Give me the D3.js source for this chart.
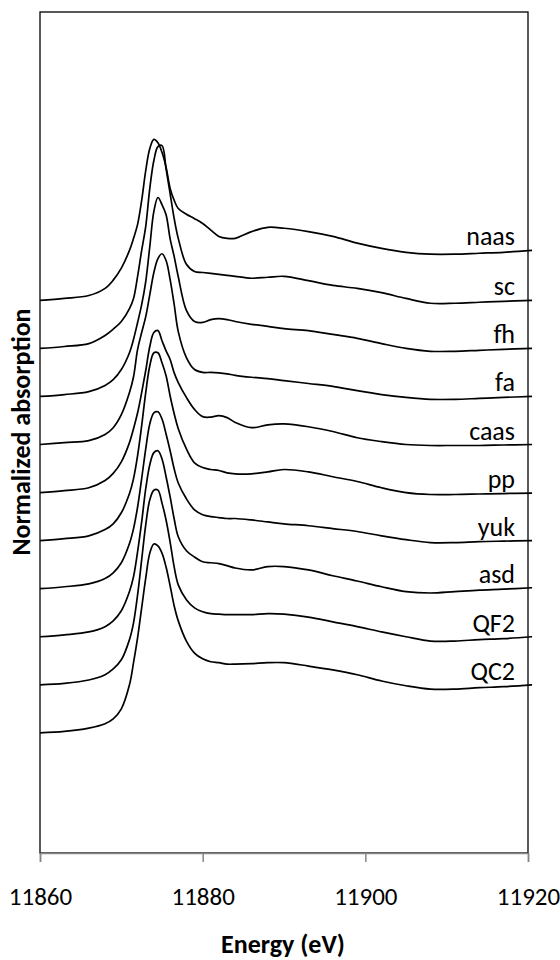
<!DOCTYPE html>
<html>
<head>
<meta charset="utf-8">
<script src="https://cdn.jsdelivr.net/npm/d3@7"></script>
<style>
  html, body { margin: 0; padding: 0; background: #fff; }
  svg { display: block; }
  text { font-family: Carlito, Calibri, Lato, sans-serif; fill: #000; }
</style>
</head>
<body>
<svg id="chart" width="560" height="960"></svg>
<script>
// ---- data ----
const energies = [11860, 11863, 11866, 11868, 11869, 11870, 11871, 11871.5, 11872, 11872.5, 11873, 11873.5, 11874, 11874.5, 11875, 11875.5, 11876, 11876.5, 11877, 11878, 11879, 11880, 11881, 11882, 11883, 11884, 11886, 11888, 11890, 11893, 11896, 11899, 11902, 11905, 11908, 11911, 11914, 11917, 11920.5];

const naas = [0,0.04,0.10,0.25,0.42,0.67,1.04,1.29,1.58,2.08,2.70,3.16,3.35,3.28,3.08,2.77,2.33,2.08,1.91,1.79,1.70,1.60,1.46,1.33,1.29,1.29,1.43,1.52,1.50,1.43,1.33,1.19,1.08,1.00,0.96,0.96,0.98,1.00,1.04];
const sc   = [0,0.04,0.10,0.27,0.40,0.56,0.83,1.04,1.50,2.04,2.54,3.33,3.91,4.20,4.22,3.74,3.22,2.70,2.29,1.75,1.60,1.58,1.56,1.54,1.52,1.50,1.46,1.48,1.50,1.41,1.31,1.25,1.16,1.04,0.94,0.94,0.96,0.98,1.00];
const fh   = [0,0.04,0.10,0.23,0.35,0.56,0.91,1.19,1.54,1.91,2.39,3.12,3.85,4.14,3.99,3.78,3.28,2.91,2.49,1.79,1.56,1.54,1.60,1.62,1.60,1.56,1.50,1.46,1.41,1.37,1.29,1.21,1.10,1.00,0.94,0.94,0.96,0.98,1.00];
const fa   = [0,0.04,0.08,0.21,0.35,0.62,1.08,1.41,1.98,2.33,2.66,3.12,3.58,3.87,3.97,3.83,3.43,2.91,2.35,1.81,1.56,1.50,1.50,1.49,1.47,1.44,1.40,1.37,1.33,1.27,1.21,1.12,1.04,0.98,0.94,0.94,0.96,0.98,1.00];
const caas = [0,0.04,0.10,0.25,0.40,0.64,1.04,1.33,1.66,2.08,2.54,3.04,3.33,3.37,3.16,2.95,2.77,2.49,2.29,1.98,1.73,1.58,1.57,1.60,1.56,1.46,1.35,1.41,1.43,1.37,1.27,1.14,1.06,1.00,0.98,0.98,0.98,0.99,1.00];
const pp   = [0,0.04,0.10,0.23,0.35,0.58,0.98,1.29,1.77,2.39,3.08,3.64,3.91,3.91,3.70,3.43,3.01,2.64,2.33,1.91,1.62,1.52,1.48,1.46,1.41,1.39,1.39,1.43,1.48,1.43,1.33,1.23,1.10,1.00,0.96,0.96,0.97,0.98,0.99];
const yuk  = [0,0.04,0.10,0.21,0.33,0.54,0.94,1.25,1.70,2.29,2.91,3.43,3.66,3.68,3.53,3.22,2.87,2.49,2.20,1.87,1.64,1.54,1.50,1.48,1.46,1.46,1.43,1.39,1.35,1.31,1.25,1.19,1.10,1.02,0.96,0.96,0.98,0.99,1.00];
const asd  = [0,0.04,0.10,0.21,0.33,0.54,0.94,1.25,1.77,2.39,3.08,3.58,3.83,3.87,3.70,3.33,2.91,2.45,2.08,1.79,1.66,1.56,1.54,1.52,1.48,1.43,1.39,1.46,1.46,1.39,1.27,1.16,1.04,0.94,0.91,0.94,0.97,0.99,1.02];
const QF2  = [0,0.03,0.10,0.21,0.33,0.52,0.94,1.29,1.87,2.60,3.33,3.85,4.05,4.05,3.78,3.43,2.97,2.45,2.08,1.77,1.60,1.52,1.48,1.47,1.46,1.46,1.46,1.48,1.47,1.41,1.31,1.21,1.10,1.00,0.91,0.91,0.94,0.96,1.00];
const QC2  = [0,0.03,0.10,0.19,0.29,0.50,1.00,1.46,1.98,2.60,3.22,3.74,3.93,3.89,3.74,3.45,3.06,2.64,2.33,1.91,1.66,1.54,1.48,1.46,1.43,1.43,1.44,1.46,1.46,1.39,1.31,1.21,1.08,0.98,0.91,0.91,0.94,0.96,1.00];

const seriesNames = ["naas", "sc", "fh", "fa", "caas", "pp", "yuk", "asd", "QF2", "QC2"];
const seriesValues = [naas, sc, fh, fa, caas, pp, yuk, asd, QF2, QC2];
const offsets = [11.5, 10.5, 9.5, 8.5, 7.5, 6.5, 5.5, 4.5, 3.5, 2.5];
const xTicks = [11860, 11880, 11900, 11920];
const xTitle = "Energy (eV)";
const yTitle = "Normalized absorption";

// ---- layout ----
const plot = { left: 40, right: 528, top: 12, bottom: 853 };
const svg = d3.select("#chart");

const x = d3.scaleLinear().domain([11860, 11920]).range([plot.left, plot.right]);
const y = d3.scaleLinear().domain([0, 17.5]).range([plot.bottom, plot.top]);

// plot-area border
svg.append("rect")
  .attr("x", plot.left).attr("y", plot.top)
  .attr("width", plot.right - plot.left).attr("height", plot.bottom - plot.top)
  .attr("fill", "none").attr("stroke", "#000").attr("stroke-width", 1.3);

// series
const line = d3.line()
  .x(d => x(d[0]))
  .y(d => y(d[1]))
  .curve(d3.curveCatmullRom.alpha(0.5));

seriesNames.forEach((name, i) => {
  const pts = energies.map((e, k) => [e, seriesValues[i][k] + offsets[i]]);
  svg.append("path")
    .datum(pts)
    .attr("fill", "none")
    .attr("stroke", "#000")
    .attr("stroke-width", 1.7)
    .attr("stroke-linejoin", "round")
    .attr("d", line);
  const last = pts[pts.length - 1];
  svg.append("text")
    .attr("x", 515)
    .attr("y", y(last[1]) - 5)
    .attr("text-anchor", "end")
    .attr("font-size", 26)
    .text(name);
});

// x axis
const xAxis = d3.axisBottom(x).tickValues(xTicks).tickSize(9).tickPadding(25)
  .tickFormat(d3.format("d"));
const gx = svg.append("g").attr("transform", `translate(0,${plot.bottom})`).call(xAxis);
gx.select(".domain").attr("stroke", "#868686").attr("stroke-width", 1.5);
gx.selectAll(".tick line").attr("stroke", "#868686").attr("stroke-width", 1.5);
gx.selectAll(".tick text").attr("font-size", 25)
  .attr("font-family", "Carlito, Calibri, Lato, sans-serif").attr("fill", "#000");

// titles
svg.append("text")
  .attr("x", 283).attr("y", 953)
  .attr("text-anchor", "middle")
  .attr("font-size", 26).attr("font-weight", "bold")
  .text(xTitle);

svg.append("text")
  .attr("transform", "translate(30,432) rotate(-90)")
  .attr("text-anchor", "middle")
  .attr("font-size", 26).attr("font-weight", "bold")
  .text(yTitle);
</script>
</body>
</html>
